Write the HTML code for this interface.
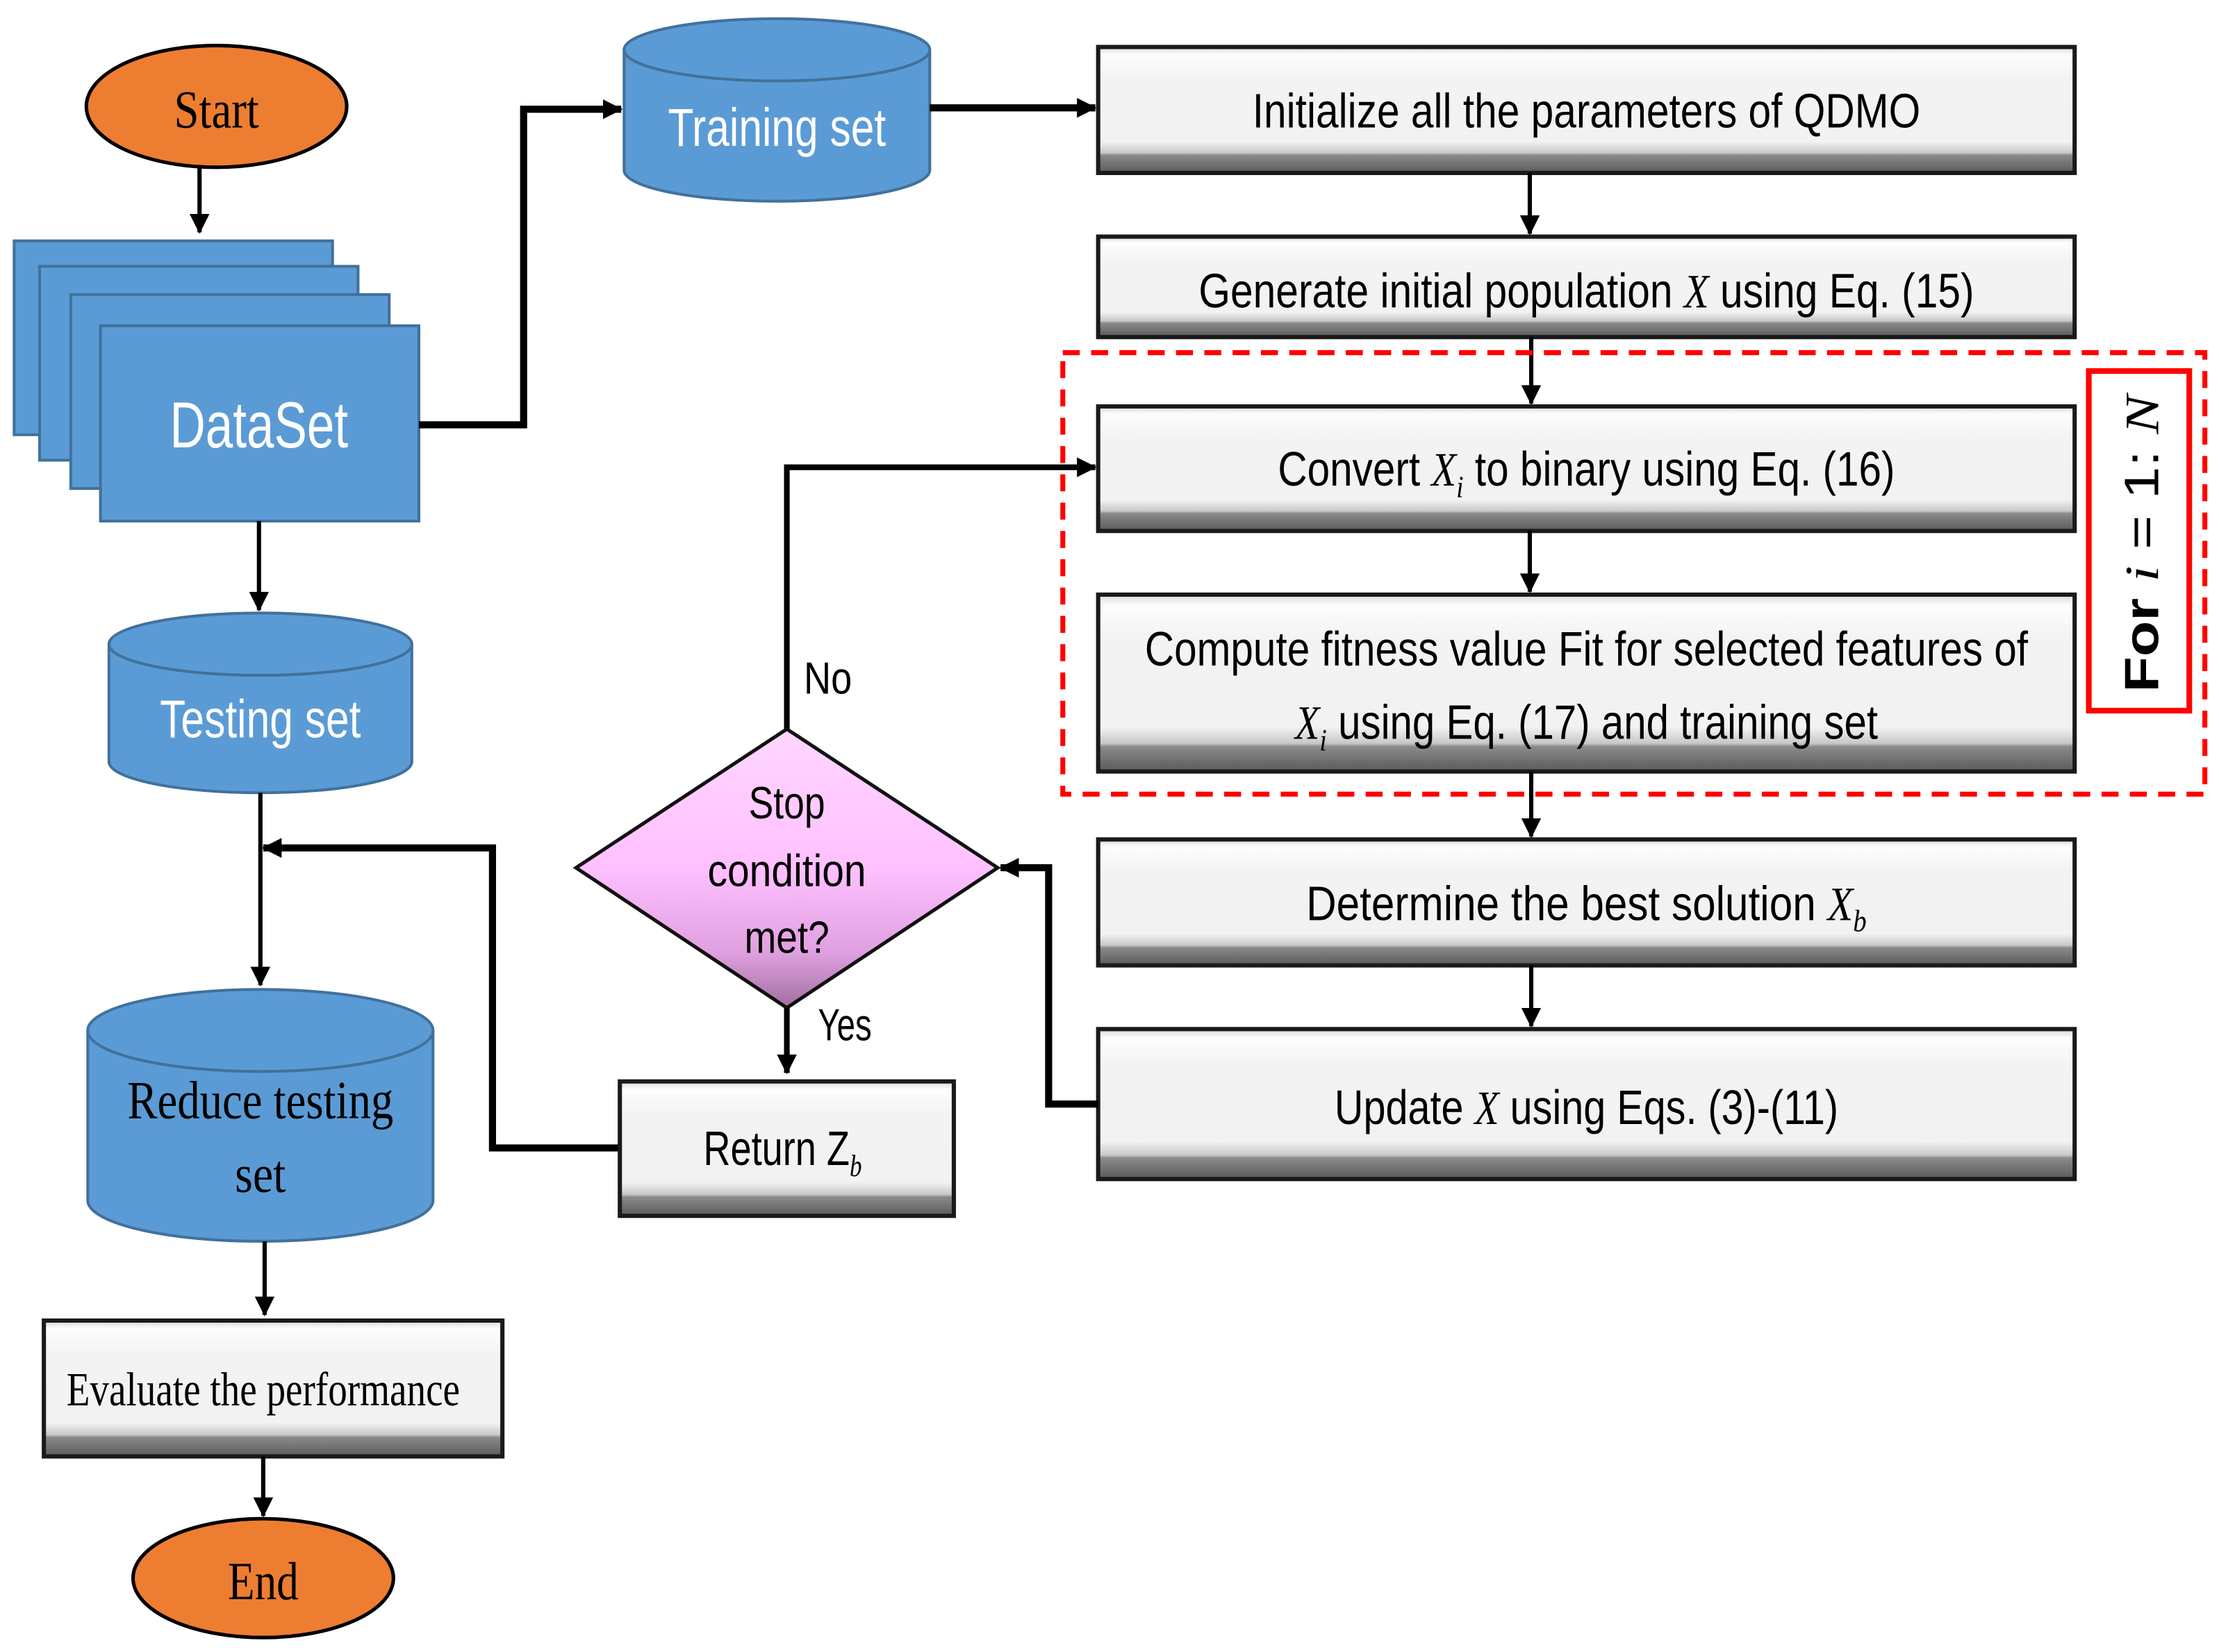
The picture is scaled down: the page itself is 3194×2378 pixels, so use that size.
<!DOCTYPE html>
<html><head><meta charset="utf-8"><style>
html,body{margin:0;padding:0;background:#fff}
svg{display:block}
text{font-family:"Liberation Sans Narrow","Liberation Sans",sans-serif}
.t{font-family:"Liberation Serif",serif}
</style></head><body>
<svg width="3194" height="2378" viewBox="0 0 1568 1167" xmlns="http://www.w3.org/2000/svg">
<defs>
<linearGradient id="bx" x1="0" y1="0" x2="0" y2="1">
<stop offset="0" stop-color="#d8d8d8"/><stop offset="0.06" stop-color="#fdfdfd"/><stop offset="0.25" stop-color="#f3f3f3"/>
<stop offset="0.75" stop-color="#f2f2f2"/><stop offset="0.84" stop-color="#c8c8c8"/><stop offset="0.86" stop-color="#8a8a8a"/><stop offset="1" stop-color="#5a5a5a"/>
</linearGradient>
<linearGradient id="dm" x1="0" y1="0" x2="0" y2="1">
<stop offset="0" stop-color="#ffd6ff"/><stop offset="0.5" stop-color="#ffc0ff"/><stop offset="0.8" stop-color="#e0a0e0"/><stop offset="1" stop-color="#a070a0"/>
</linearGradient>
<marker id="b" markerWidth="14" markerHeight="14" refX="13" refY="7" orient="auto" markerUnits="userSpaceOnUse"><path d="M0,0 L14,7 L0,14 Z" fill="#000"/></marker>
</defs>

<ellipse cx="153" cy="75" rx="92" ry="43" fill="#ED7D31" stroke="#000" stroke-width="2.5"/>
<text class="t" x="153" y="90" font-size="38" text-anchor="middle" textLength="60" lengthAdjust="spacingAndGlyphs">Start</text>
<line x1="141" y1="118" x2="141" y2="164" stroke="#000" stroke-width="3" marker-end="url(#b)"/>

<g fill="#5B9BD5" stroke="#41719C" stroke-width="2">
<rect x="10" y="170" width="225" height="137"/>
<rect x="28" y="188" width="225" height="137"/>
<rect x="50" y="208" width="225" height="137"/>
<rect x="71" y="230" width="225" height="138"/>
</g>
<text x="183" y="316" font-size="46" fill="#fff" text-anchor="middle" textLength="126" lengthAdjust="spacingAndGlyphs">DataSet</text>

<polyline points="296,300 370,300 370,77 439,77" fill="none" stroke="#000" stroke-width="5" marker-end="url(#b)"/>

<path d="M441,35 L441,120 A108,22 0 0 0 657,120 L657,35" fill="#5B9BD5" stroke="#41719C" stroke-width="2"/>
<ellipse cx="549" cy="35" rx="108" ry="22" fill="#5B9BD5" stroke="#41719C" stroke-width="2"/>
<text x="549" y="103" font-size="38" fill="#fff" text-anchor="middle" textLength="154" lengthAdjust="spacingAndGlyphs">Training set</text>
<line x1="657" y1="76" x2="774" y2="76" stroke="#000" stroke-width="5" marker-end="url(#b)"/>

<g fill="url(#bx)" stroke="#1a1a1a" stroke-width="3">
<rect x="776" y="33" width="690" height="89"/>
<rect x="776" y="167" width="690" height="71"/>
<rect x="776" y="287" width="690" height="88"/>
<rect x="776" y="420" width="690" height="125"/>
<rect x="776" y="593" width="690" height="89"/>
<rect x="776" y="727" width="690" height="106"/>
</g>
<g font-size="34" text-anchor="middle">
<text x="1121" y="90" textLength="472" lengthAdjust="spacingAndGlyphs">Initialize all the parameters of QDMO</text>
<text x="1121" y="217" textLength="548" lengthAdjust="spacingAndGlyphs">Generate initial population <tspan class="t" font-style="italic">X</tspan> using Eq. (15)</text>
<text x="1121" y="343" textLength="436" lengthAdjust="spacingAndGlyphs">Convert <tspan class="t" font-style="italic">X<tspan font-size="22" dy="8">i</tspan></tspan><tspan dy="-8"> to binary using Eq. (16)</tspan></text>
<text x="1121" y="470" textLength="624" lengthAdjust="spacingAndGlyphs">Compute fitness value Fit for selected features of</text>
<text x="1121" y="522" textLength="412" lengthAdjust="spacingAndGlyphs"><tspan class="t" font-style="italic">X<tspan font-size="22" dy="8">i</tspan></tspan><tspan dy="-8"> using Eq. (17) and training set</tspan></text>
<text x="1121" y="650" textLength="396" lengthAdjust="spacingAndGlyphs">Determine the best solution <tspan class="t" font-style="italic">X<tspan font-size="22" dy="8">b</tspan></tspan></text>
<text x="1121" y="794" textLength="356" lengthAdjust="spacingAndGlyphs">Update <tspan class="t" font-style="italic">X</tspan> using Eqs. (3)-(11)</text>
</g>
<g stroke="#000" stroke-width="3">
<line x1="1081" y1="122" x2="1081" y2="165" marker-end="url(#b)"/>
<line x1="1082" y1="238" x2="1082" y2="285" marker-end="url(#b)"/>
<line x1="1081" y1="375" x2="1081" y2="418" marker-end="url(#b)"/>
<line x1="1082" y1="545" x2="1082" y2="591" marker-end="url(#b)"/>
<line x1="1082" y1="682" x2="1082" y2="725" marker-end="url(#b)"/>
</g>

<rect x="751" y="249" width="807" height="312" fill="none" stroke="#f00" stroke-width="3.5" stroke-dasharray="12,8"/>
<rect x="1476" y="262" width="71" height="240" fill="none" stroke="#f00" stroke-width="4"/>
<text transform="translate(1525,384) rotate(-90)" font-family="'DejaVu Sans',sans-serif" font-size="34" text-anchor="middle" textLength="210" lengthAdjust="spacingAndGlyphs"><tspan font-weight="bold">For </tspan><tspan class="t" font-style="italic">i</tspan> = 1: <tspan class="t" font-style="italic">N</tspan></text>

<line x1="183" y1="368" x2="183" y2="431" stroke="#000" stroke-width="3" marker-end="url(#b)"/>
<path d="M77,455 L77,538 A107,22 0 0 0 291,538 L291,455" fill="#5B9BD5" stroke="#41719C" stroke-width="2"/>
<ellipse cx="184" cy="455" rx="107" ry="22" fill="#5B9BD5" stroke="#41719C" stroke-width="2"/>
<text x="184" y="521" font-size="38" fill="#fff" text-anchor="middle" textLength="142" lengthAdjust="spacingAndGlyphs">Testing set</text>

<line x1="184" y1="560" x2="184" y2="696" stroke="#000" stroke-width="3" marker-end="url(#b)"/>
<polyline points="437,811 348,811 348,599 186,599" fill="none" stroke="#000" stroke-width="5" marker-end="url(#b)"/>

<path d="M62,728 L62,848 A122,29 0 0 0 306,848 L306,728" fill="#5B9BD5" stroke="#41719C" stroke-width="2"/>
<ellipse cx="184" cy="728" rx="122" ry="29" fill="#5B9BD5" stroke="#41719C" stroke-width="2"/>
<text class="t" x="184" y="790" font-size="38" text-anchor="middle" textLength="188" lengthAdjust="spacingAndGlyphs">Reduce testing</text>
<text class="t" x="184" y="842" font-size="38" text-anchor="middle" textLength="36" lengthAdjust="spacingAndGlyphs">set</text>

<line x1="187" y1="877" x2="187" y2="929" stroke="#000" stroke-width="3" marker-end="url(#b)"/>
<rect x="31" y="933" width="324" height="96" fill="url(#bx)" stroke="#1a1a1a" stroke-width="3"/>
<text class="t" x="186" y="993" font-size="34" text-anchor="middle" textLength="278" lengthAdjust="spacingAndGlyphs">Evaluate the performance</text>
<line x1="186" y1="1029" x2="186" y2="1071" stroke="#000" stroke-width="3" marker-end="url(#b)"/>
<ellipse cx="186" cy="1115" rx="92" ry="42" fill="#ED7D31" stroke="#000" stroke-width="2.5"/>
<text class="t" x="186" y="1130" font-size="38" text-anchor="middle" textLength="50" lengthAdjust="spacingAndGlyphs">End</text>

<polyline points="556,515 556,330 774,330" fill="none" stroke="#000" stroke-width="4" marker-end="url(#b)"/>
<polygon points="556,515 705,613 556,712 407,613" fill="url(#dm)" stroke="#111" stroke-width="2.5"/>
<g font-size="32" text-anchor="middle">
<text x="556" y="578" textLength="54" lengthAdjust="spacingAndGlyphs">Stop</text>
<text x="556" y="626" textLength="112" lengthAdjust="spacingAndGlyphs">condition</text>
<text x="556" y="673" textLength="60" lengthAdjust="spacingAndGlyphs">met?</text>
</g>
<text x="585" y="490" font-size="32" text-anchor="middle" textLength="34" lengthAdjust="spacingAndGlyphs">No</text>
<text x="597" y="735" font-size="32" text-anchor="middle" textLength="38" lengthAdjust="spacingAndGlyphs">Yes</text>
<line x1="556" y1="712" x2="556" y2="758" stroke="#000" stroke-width="4" marker-end="url(#b)"/>
<polyline points="776,780 741,780 741,613 707,613" fill="none" stroke="#000" stroke-width="5" marker-end="url(#b)"/>

<rect x="438" y="764" width="236" height="95" fill="url(#bx)" stroke="#1a1a1a" stroke-width="3"/>
<text x="553" y="823" font-size="34" text-anchor="middle" textLength="112" lengthAdjust="spacingAndGlyphs">Return Z<tspan class="t" font-style="italic" font-size="22" dy="8">b</tspan></text>
</svg>
</body></html>
